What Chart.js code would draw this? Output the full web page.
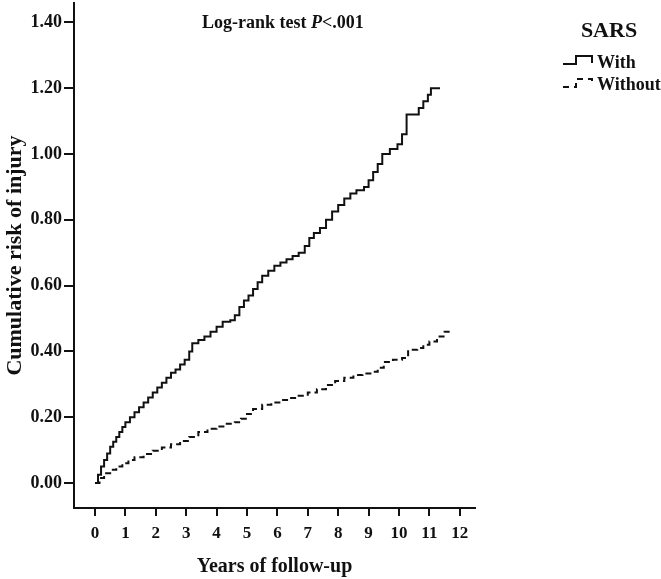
<!DOCTYPE html>
<html>
<head>
<meta charset="utf-8">
<script src="https://cdn.jsdelivr.net/npm/chart.js@4/dist/chart.umd.min.js"></script>
<style>
html,body{margin:0;padding:0;background:#fff;}
#wrap{position:relative;width:661px;height:579px;}
</style>
</head>
<body>
<div id="wrap"><canvas id="c" width="661" height="579"></canvas></div>
<script>
// ---- data ----
const xTicks = [0,1,2,3,4,5,6,7,8,9,10,11,12];
const yTicks = [0,0.2,0.4,0.6,0.8,1.0,1.2,1.4];

const withTimes = [0,0.1,0.2,0.3,0.4,0.5,0.6,0.7,0.8,0.9,1.0,1.15,1.3,1.45,1.6,1.75,1.9,2.05,2.2,2.35,2.5,2.65,2.8,2.95,3.1,3.2,3.4,3.6,3.8,4.0,4.2,4.45,4.6,4.75,4.9,5.05,5.2,5.35,5.5,5.7,5.9,6.1,6.3,6.5,6.7,6.9,7.05,7.2,7.4,7.6,7.8,8.0,8.2,8.4,8.6,8.85,9.0,9.15,9.3,9.45,9.7,9.95,10.1,10.25,10.65,10.8,10.95,11.05,11.35];
const withRisk  = [0,0.025,0.05,0.07,0.09,0.11,0.125,0.14,0.155,0.17,0.185,0.2,0.215,0.23,0.245,0.26,0.275,0.29,0.305,0.32,0.335,0.345,0.36,0.375,0.4,0.425,0.435,0.445,0.46,0.475,0.49,0.495,0.51,0.535,0.555,0.57,0.59,0.61,0.63,0.645,0.66,0.67,0.68,0.69,0.7,0.72,0.745,0.76,0.775,0.8,0.825,0.845,0.865,0.88,0.89,0.9,0.92,0.945,0.97,1.0,1.015,1.03,1.06,1.12,1.14,1.16,1.18,1.2,1.2];

const withoutTimes = [0,0.15,0.3,0.5,0.7,0.9,1.1,1.3,1.6,1.9,2.2,2.5,2.8,3.1,3.4,3.7,4.0,4.3,4.6,4.8,5.0,5.2,5.5,5.8,6.1,6.4,6.7,7.0,7.3,7.6,7.9,8.2,8.5,8.8,9.1,9.3,9.5,9.8,10.1,10.3,10.6,10.8,11.0,11.25,11.5,11.75];
const withoutRisk  = [0,0.015,0.03,0.04,0.05,0.06,0.07,0.078,0.088,0.098,0.108,0.118,0.128,0.14,0.155,0.165,0.172,0.18,0.185,0.195,0.21,0.225,0.238,0.245,0.252,0.258,0.265,0.275,0.285,0.298,0.31,0.32,0.328,0.333,0.338,0.35,0.368,0.375,0.38,0.405,0.41,0.42,0.43,0.445,0.46,0.46];

const seriesNames = ['With','Without'];
const legendTitle = 'SARS';
const xTitle = 'Years of follow-up';
const yTitle = 'Cumulative risk of injury';

// ---- styles ----
const FONT = "'Liberation Serif', 'Times New Roman', serif";
const INK = '#111';

const toXY = (ts, vs) => ts.map((t, i) => ({x: t, y: vs[i]}));

const annotate = {
  id: 'annotate',
  afterDraw(chart) {
    const ctx = chart.ctx;
    ctx.save();
    ctx.fillStyle = INK;
    ctx.textBaseline = 'middle';
    // Log-rank text
    let x = 202, y = 23;
    const parts = [['Log-rank test ', 'bold'], ['P', 'italic bold'], ['<.001', 'bold']];
    for (const [s, st] of parts) {
      ctx.font = st + ' 18px ' + FONT;
      ctx.textAlign = 'left';
      ctx.fillText(s, x, y);
      x += ctx.measureText(s).width;
    }
    // legend
    ctx.font = 'bold 22px ' + FONT;
    ctx.textAlign = 'center';
    ctx.fillText(legendTitle, 609, 31);
    ctx.font = 'bold 18px ' + FONT;
    ctx.textAlign = 'left';
    ctx.fillText(seriesNames[0], 597, 63);
    ctx.fillText(seriesNames[1], 597, 85);
    ctx.strokeStyle = INK;
    ctx.lineWidth = 2;
    // solid symbol
    ctx.beginPath();
    ctx.moveTo(563, 64); ctx.lineTo(576, 64); ctx.lineTo(576, 56); ctx.lineTo(592, 56); ctx.lineTo(592, 63);
    ctx.stroke();
    // dashed symbol
    ctx.setLineDash([6, 5]);
    ctx.beginPath();
    ctx.moveTo(563, 87); ctx.lineTo(576, 87); ctx.lineTo(576, 79); ctx.lineTo(592, 79); ctx.lineTo(592, 85);
    ctx.stroke();
    ctx.restore();
  }
};

new Chart(document.getElementById('c'), {
  type: 'line',
  data: {
    datasets: [
      {label: seriesNames[0], data: toXY(withTimes, withRisk), borderColor: INK, borderWidth: 2, stepped: 'before', pointRadius: 0, fill: false},
      {label: seriesNames[1], data: toXY(withoutTimes, withoutRisk), borderColor: INK, borderWidth: 2, borderDash: [6, 4], stepped: 'before', pointRadius: 0, fill: false}
    ]
  },
  options: {
    responsive: false,
    devicePixelRatio: 1,
    animation: false,
    layout: {padding: {top: 3, right: 186, left: 0, bottom: 0}},
    plugins: {legend: {display: false}, tooltip: {enabled: false}},
    scales: {
      x: {
        type: 'linear', min: -0.69, max: 12.5,
        afterBuildTicks: s => { s.ticks = xTicks.map(v => ({value: v})); },
        afterFit: s => { s.height = 71; s.paddingLeft = 0; s.paddingRight = 0; },
        grid: {drawOnChartArea: false, drawTicks: true, tickLength: 8, color: INK, lineWidth: 2},
        border: {display: true, color: INK, width: 2},
        ticks: {color: INK, padding: 7, font: {family: FONT, size: 17, weight: 'bold'}, maxRotation: 0, autoSkip: false},
        title: {display: true, text: xTitle, color: INK, font: {family: FONT, size: 20, weight: 'bold'}, padding: {top: 0, bottom: 0}}
      },
      y: {
        type: 'linear', min: -0.076, max: 1.459,
        afterBuildTicks: s => { s.ticks = yTicks.map(v => ({value: v})); },
        afterFit: s => { s.width = 74; s.paddingTop = 0; s.paddingBottom = 0; },
        grid: {drawOnChartArea: false, drawTicks: true, tickLength: 10, color: INK, lineWidth: 2},
        border: {display: true, color: INK, width: 2},
        ticks: {color: INK, padding: 2, font: {family: FONT, size: 18, weight: 'bold'}, autoSkip: false, callback: v => Number(v).toFixed(2)},
        title: {display: true, text: yTitle, color: INK, font: {family: FONT, size: 22, weight: 'bold'}, padding: {top: 2, bottom: 0}}
      }
    }
  },
  plugins: [annotate]
});
</script>
</body>
</html>
